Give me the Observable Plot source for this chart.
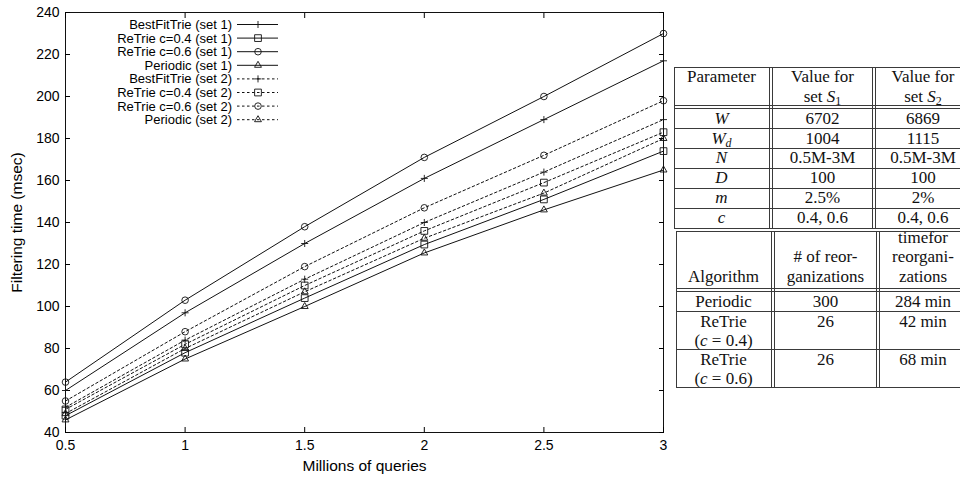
<!DOCTYPE html>
<html><head><meta charset="utf-8">
<script src="https://cdn.jsdelivr.net/npm/d3@7"></script>
<script src="https://cdn.jsdelivr.net/npm/@observablehq/plot@0.6"></script>
<style>
html,body{margin:0;padding:0;background:#fff;overflow:hidden;}
#wrap{position:relative;width:960px;height:477px;overflow:hidden;background:#fff;}
#chart{position:absolute;left:0;top:0;}
#legend{position:absolute;left:0;top:0;}
.tbl{position:absolute;left:0;top:0;width:960px;height:477px;font-family:"Liberation Serif",serif;font-size:17px;color:#111;}
.ln{position:absolute;background:#3a3a3a;}
.cell{position:absolute;text-align:center;line-height:19.5px;white-space:nowrap;}
.cell sub{font-size:12px;line-height:0;vertical-align:-3px;}
</style></head><body>
<div id="wrap"><div id="chart"></div><svg id="legend" width="672" height="140"></svg><div class="tbl" id="tables"></div></div>
<script>
// ---------- chart data ----------
const queries = [0.5, 1, 1.5, 2, 2.5, 3];
const xTicks = [0.5, 1, 1.5, 2, 2.5, 3];
const yTicks = [40, 60, 80, 100, 120, 140, 160, 180, 200, 220, 240];
const algorithmNames = ["BestFitTrie", "ReTrie c=0.4", "ReTrie c=0.6", "Periodic"];

const bestFitTrieSet1 = [60, 97, 130, 161, 189, 217];
const reTrie04Set1   = [48, 78, 104, 129.5, 151, 174];
const reTrie06Set1   = [64, 103, 138, 171, 200, 230];
const periodicSet1   = [46, 75, 100, 125.5, 146, 165];

const bestFitTrieSet2 = [52, 84, 113, 140, 164, 189];
const reTrie04Set2   = [51, 82, 110, 136, 159, 183];
const reTrie06Set2   = [55, 88, 119, 147, 172, 198];
const periodicSet2   = [49, 80, 107, 132.5, 154, 180];

// ---------- table data ----------
const paramHeader = [["Parameter"], ["Value for", "set S_1"], ["Value for", "set S_2"]];
const paramNames = ["W", "W_d", "N", "D", "m", "c"];
const valuesSet1 = ["6702", "1004", "0.5M-3M", "100", "2.5%", "0.4, 0.6"];
const valuesSet2 = ["6869", "1115", "0.5M-3M", "100", "2%", "0.4, 0.6"];

const algoHeader = [["Algorithm"], ["# of reor-", "ganizations"], ["timefor", "reorgani-", "zations"]];
const algoRows = [["Periodic"], ["ReTrie", "(c = 0.4)"], ["ReTrie", "(c = 0.6)"]];
const reorgCounts = ["300", "26", "26"];
const reorgTimes = ["284 min", "42 min", "68 min"];

// ---------- build rows ----------
const set1 = [bestFitTrieSet1, reTrie04Set1, reTrie06Set1, periodicSet1];
const set2 = [bestFitTrieSet2, reTrie04Set2, reTrie06Set2, periodicSet2];
const rows = [];
algorithmNames.forEach((name, i) => {
  queries.forEach((q, j) => {
    rows.push({algo: name, set: 1, x: q, y: set1[i][j]});
    rows.push({algo: name, set: 2, x: q, y: set2[i][j]});
  });
});
const symbolOf = {"BestFitTrie": "plus", "ReTrie c=0.4": "square2", "ReTrie c=0.6": "circle", "Periodic": "triangle2"};
const radiusOf = {"plus": 2.4, "square2": 4.3, "circle": 3.3, "triangle2": 3.3};
const ink = "#111";

const marks = [
  Plot.frame({stroke: ink}),
  Plot.axisX(xTicks, {anchor: "bottom", tickSize: -5, tickPadding: 13, tickFormat: d => String(d), fontSize: 14, label: null}),
  Plot.axisX(xTicks, {anchor: "bottom", tickSize: 0, tickFormat: () => "", fontSize: 15.5,
    label: "Millions of queries", labelAnchor: "center", labelOffset: 38, labelArrow: "none"}),
  Plot.axisX(xTicks, {anchor: "top", tickSize: -5, tickFormat: () => "", label: null}),
  Plot.axisY(yTicks, {anchor: "left", tickSize: -5, tickPadding: 11, tickFormat: d => String(d), fontSize: 14, label: null}),
  Plot.axisY(yTicks, {anchor: "left", tickSize: 0, tickFormat: () => "", fontSize: 15.5,
    label: "Filtering time (msec)", labelAnchor: "center", labelOffset: 55, labelArrow: "none"}),
  Plot.axisY(yTicks, {anchor: "right", tickSize: -5, tickFormat: () => "", label: null}),
  Plot.line(rows.filter(d => d.set === 1), {x: "x", y: "y", z: "algo", stroke: ink, strokeWidth: 1}),
  Plot.line(rows.filter(d => d.set === 2), {x: "x", y: "y", z: "algo", stroke: ink, strokeWidth: 1, strokeDasharray: "2.5,2.5"})
];
algorithmNames.forEach(name => {
  const s = symbolOf[name];
  marks.push(Plot.dot(rows.filter(d => d.algo === name), {x: "x", y: "y", symbol: s, r: radiusOf[s], stroke: ink, fill: "none", strokeWidth: 0.9}));
});

const chart = Plot.plot({
  width: 672, height: 477,
  marginLeft: 65, marginRight: 9, marginTop: 12, marginBottom: 45,
  style: {fontFamily: "'Liberation Sans', Arial, sans-serif", fontSize: "13px", color: "#000", background: "white", overflow: "visible"},
  x: {type: "linear", domain: [0.5, 3]},
  y: {type: "linear", domain: [40, 240]},
  marks
});
document.getElementById("chart").appendChild(chart);

// ---------- legend ----------
const legendEntries = [];
[1, 2].forEach(set => algorithmNames.forEach(name => legendEntries.push({name, set})));
const lg = d3.select("#legend").style("font-family", "'Liberation Sans', Arial, sans-serif").style("font-size", "13px");
const symMap = {plus: d3.symbolPlus, square2: d3.symbolSquare2, circle: d3.symbolCircle, triangle2: d3.symbolTriangle2};
legendEntries.forEach((e, i) => {
  const y = 24.5 + i * 13.6;
  lg.append("text").attr("x", 232).attr("y", y).attr("dy", "0.35em").attr("text-anchor", "end").attr("fill", "#000")
    .text(`${e.name} (set ${e.set})`);
  lg.append("line").attr("x1", 237).attr("x2", 278).attr("y1", y).attr("y2", y).attr("stroke", ink).attr("stroke-width", 1)
    .attr("stroke-dasharray", e.set === 2 ? "2.5,2.5" : null);
  const s = symbolOf[e.name], r = radiusOf[s];
  lg.append("path").attr("transform", `translate(258,${y})`)
    .attr("d", d3.symbol(symMap[s], Math.PI * r * r)())
    .attr("fill", "none").attr("stroke", ink).attr("stroke-width", 0.9);
});

// ---------- tables ----------
const T = document.getElementById("tables");
function line(x, y, w, h) {
  const d = document.createElement("div"); d.className = "ln";
  Object.assign(d.style, {left: x + "px", top: y + "px", width: w + "px", height: h + "px"});
  T.appendChild(d);
}
function fmt(s) {
  if (/^[A-Za-z]_[A-Za-z0-9]$/.test(s)) {
    const [a, b] = s.split("_");
    return `<i>${a}</i><sub>${/\d/.test(b) ? b : "<i>" + b + "</i>"}</sub>`;
  }
  if (/^[A-Za-z]$/.test(s)) return `<i>${s}</i>`;
  return s.replace(/set ([A-Z])_(\d)/, "set <i>$1</i><sub>$2</sub>")
          .replace(/\(c = /, "(<i>c</i> = ");
}
function cell(x0, x1, yCenter, lines) {
  const d = document.createElement("div"); d.className = "cell";
  Object.assign(d.style, {left: x0 + "px", width: (x1 - x0) + "px", top: (yCenter - 9.75) + "px"});
  d.innerHTML = lines.map(fmt).join("<br>");
  T.appendChild(d);
}
function table(spec) {
  const {left, right, top, bottom, cols, hSingles, hDouble} = spec;
  line(left, top, right - left, 1);
  line(left, bottom, right - left, 1);
  line(left, top, 1, bottom - top + 1);
  cols.forEach(x => { line(x, top, 1, bottom - top + 1); line(x + 3, top, 1, bottom - top + 1); });
  line(left, hDouble, right - left, 1); line(left, hDouble + 3, right - left, 1);
  hSingles.forEach(y => line(left, y, right - left, 1));
}

// Table 1: parameters
{
  const left = 674, right = 990, top = 67, hDouble = 105;
  const rowH = 19.85, rowTop = hDouble + 3.5;
  const n = paramNames.length;
  const bottom = Math.round(rowTop + n * rowH);
  const singles = [];
  for (let i = 1; i < n; i++) singles.push(Math.round(rowTop + i * rowH));
  table({left, right, top, bottom, cols: [769, 872], hSingles: singles, hDouble});
  const colX = [[674, 769], [773, 872], [876, 970]];
  paramHeader.forEach((lines, c) => cell(colX[c][0], colX[c][1], 77, lines));
  paramNames.forEach((p, i) => {
    const yc = rowTop + i * rowH + rowH / 2;
    cell(colX[0][0], colX[0][1], yc, [p]);
    cell(colX[1][0], colX[1][1], yc, [valuesSet1[i]]);
    cell(colX[2][0], colX[2][1], yc, [valuesSet2[i]]);
  });
}
// Table 2: algorithms
{
  const left = 676, right = 990, top = 231, hDouble = 288, bottom = 387;
  table({left, right, top, bottom, cols: [771, 876], hSingles: [311, 349], hDouble});
  const colX = [[676, 771], [775, 876], [880, 966]];
  const lastLine = 276.7, lh = 19.5;
  algoHeader.forEach((lines, c) => cell(colX[c][0], colX[c][1], lastLine - (lines.length - 1) * lh, lines));
  const rowTops = [291, 311, 349];
  algoRows.forEach((lines, i) => {
    const yc = rowTops[i] + 10.5;
    cell(colX[0][0], colX[0][1], yc, lines);
    cell(colX[1][0], colX[1][1], yc, [reorgCounts[i]]);
    cell(colX[2][0], colX[2][1], yc, [reorgTimes[i]]);
  });
}
</script></body></html>
